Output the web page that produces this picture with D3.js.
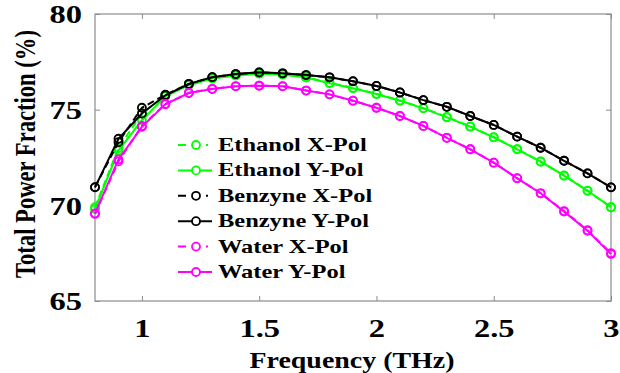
<!DOCTYPE html>
<html>
<head>
<meta charset="utf-8">
<script src="https://cdn.jsdelivr.net/npm/d3@7"></script>
<style>
    body { margin: 0; background: #fff; }
    text { font-family: "Liberation Serif", "Times New Roman", serif; font-weight: bold; fill: #000; }
    .axis path, .axis line { stroke: #8c8c8c; }
</style>
</head>
<body>
<div id="chart"></div>
<script>
// frequency points (THz)
var freq = [0.8, 0.9, 1.0, 1.1, 1.2, 1.3, 1.4, 1.5, 1.6, 1.7, 1.8, 1.9, 2.0,
    2.1, 2.2, 2.3, 2.4, 2.5, 2.6, 2.7, 2.8, 2.9, 3.0];

var ethanolX = [69.9, 73.0, 74.8, 75.75, 76.3, 76.65, 76.8, 76.9, 76.85, 76.7, 76.4, 76.14, 75.83,
    75.48, 75.08, 74.62, 74.12, 73.56, 72.94, 72.29, 71.56, 70.77, 69.9];
var ethanolY = [69.8, 72.86, 74.45, 75.7, 76.28, 76.63, 76.79, 76.88, 76.84, 76.68, 76.38, 76.12, 75.82,
    75.47, 75.07, 74.6, 74.11, 73.55, 72.93, 72.28, 71.55, 70.76, 69.9];
var benzyneX = [70.95, 73.3, 75.1, 75.78, 76.35, 76.7, 76.86, 76.95, 76.9, 76.81, 76.69, 76.48, 76.24,
    75.9, 75.5, 75.15, 74.67, 74.2, 73.59, 73.01, 72.33, 71.67, 70.94];
var benzyneY = [70.94, 73.48, 74.8, 75.75, 76.34, 76.7, 76.86, 76.95, 76.9, 76.81, 76.69, 76.49, 76.24,
    75.9, 75.5, 75.15, 74.67, 74.2, 73.59, 73.01, 72.33, 71.67, 70.94];
var waterX = [69.55, 72.3, 74.15, 75.3, 75.88, 76.09, 76.23, 76.26, 76.23, 76.0, 75.8, 75.47, 75.1,
    74.67, 74.15, 73.53, 72.93, 72.23, 71.42, 70.63, 69.7, 68.7, 67.5];
var waterY = [69.58, 72.4, 74.1, 75.28, 75.87, 76.08, 76.22, 76.25, 76.22, 76.0, 75.8, 75.47, 75.1,
    74.67, 74.15, 73.53, 72.93, 72.23, 71.41, 70.63, 69.67, 68.67, 67.45];

var seriesNames = ["Ethanol X-Pol", "Ethanol Y-Pol", "Benzyne X-Pol", "Benzyne Y-Pol", "Water X-Pol", "Water Y-Pol"];
var seriesValues = [ethanolX, ethanolY, benzyneX, benzyneY, waterX, waterY];
var seriesColors = ["#00ff00", "#00ff00", "#000000", "#000000", "#ff00ff", "#ff00ff"];
var seriesDashed = [true, false, true, false, true, false];

var xTicks = [1, 1.5, 2, 2.5, 3];
var yTicks = [65, 70, 75, 80];

var W = 620, H = 373;
var plotLeft = 95, plotRight = 611, plotTop = 14, plotBottom = 301;
var stretch = 1.3; // text in the picture is wide

var svg = d3.select("#chart").append("svg")
    .attr("width", W)
    .attr("height", H);

var x = d3.scaleLinear().domain([0.8, 3]).range([plotLeft, plotRight]);
var y = d3.scaleLinear().domain([65, 80]).range([plotBottom, plotTop]);

// box
svg.append("rect")
    .attr("x", plotLeft).attr("y", plotTop)
    .attr("width", plotRight - plotLeft).attr("height", plotBottom - plotTop)
    .style("fill", "none")
    .style("stroke", "#8c8c8c")
    .style("stroke-width", 1.2);

// axes, ticks pointing inward
var xAxis = svg.append("g")
    .attr("class", "x axis")
    .attr("transform", "translate(0," + plotBottom + ")")
    .call(d3.axisBottom(x).tickValues(xTicks).tickSize(-5).tickFormat(d3.format("")));
var yAxis = svg.append("g")
    .attr("class", "y axis")
    .attr("transform", "translate(" + plotLeft + ",0)")
    .call(d3.axisLeft(y).tickValues(yTicks).tickSize(-5));
svg.append("g")
    .attr("class", "axis")
    .attr("transform", "translate(0," + plotTop + ")")
    .call(d3.axisTop(x).tickValues(xTicks).tickSize(-5).tickFormat(""));
svg.append("g")
    .attr("class", "axis")
    .attr("transform", "translate(" + plotRight + ",0)")
    .call(d3.axisRight(y).tickValues(yTicks).tickSize(-5).tickFormat(""));

svg.selectAll(".axis path").remove();

xAxis.selectAll("text")
    .style("font-size", "25px")
    .attr("y", 18)
    .attr("dy", "0.71em")
    .attr("transform", "scale(" + stretch + ",1)");
yAxis.selectAll("text")
    .style("font-size", "25px")
    .attr("x", -13 / stretch)
    .attr("dy", "0.35em")
    .attr("transform", "scale(" + stretch + ",1)");

// axis titles
svg.append("text")
    .attr("x", 352)
    .attr("y", 368)
    .attr("text-anchor", "middle")
    .attr("textLength", 205)
    .attr("lengthAdjust", "spacingAndGlyphs")
    .style("font-size", "23px")
    .text("Frequency (THz)");

svg.append("text")
    .attr("transform", "translate(35,154) rotate(-90) scale(1,1.3)")
    .attr("text-anchor", "middle")
    .attr("textLength", 248)
    .attr("lengthAdjust", "spacingAndGlyphs")
    .style("font-size", "22px")
    .text("Total Power Fraction (%)");

// series
var line = d3.line()
    .x(function (d) { return x(d.x); })
    .y(function (d) { return y(d.y); });

var data = seriesNames.map(function (name, i) {
    return {
        name: name,
        color: seriesColors[i],
        dashed: seriesDashed[i],
        values: freq.map(function (f, j) { return {x: f, y: seriesValues[i][j]}; })
    };
});

var series = svg.selectAll(".series")
    .data(data)
    .enter().append("g")
    .attr("class", "series");

series.append("path")
    .attr("d", function (d) { return line(d.values); })
    .style("fill", "none")
    .style("stroke", function (d) { return d.color; })
    .style("stroke-width", 2)
    .style("stroke-dasharray", function (d) { return d.dashed ? "7,4" : null; });

series.selectAll("circle")
    .data(function (d) { return d.values.map(function (v) { return {x: v.x, y: v.y, color: d.color}; }); })
    .enter().append("circle")
    .attr("cx", function (d) { return x(d.x); })
    .attr("cy", function (d) { return y(d.y); })
    .attr("r", 4)
    .style("fill", "none")
    .style("stroke", function (d) { return d.color; })
    .style("stroke-width", 1.8);

// legend
var legend = svg.selectAll(".legend")
    .data(data)
    .enter().append("g")
    .attr("class", "legend")
    .attr("transform", function (d, i) { return "translate(178," + (145 + i * 25.4) + ")"; });

legend.append("line")
    .attr("x1", 0).attr("x2", function (d) { return d.dashed ? 30 : 34; })
    .attr("y1", 0).attr("y2", 0)
    .style("stroke", function (d) { return d.color; })
    .style("stroke-width", 2)
    .style("stroke-dasharray", function (d) { return d.dashed ? "8,6" : null; });

legend.append("circle")
    .attr("cx", 18).attr("cy", 0).attr("r", 4)
    .style("fill", "#fff")
    .style("stroke", function (d) { return d.color; })
    .style("stroke-width", 1.8);

legend.append("text")
    .attr("x", 40 / 1.36)
    .attr("y", 6)
    .attr("transform", "scale(1.36,1)")
    .style("font-size", "18px")
    .text(function (d) { return d.name; });
</script>
</body>
</html>
